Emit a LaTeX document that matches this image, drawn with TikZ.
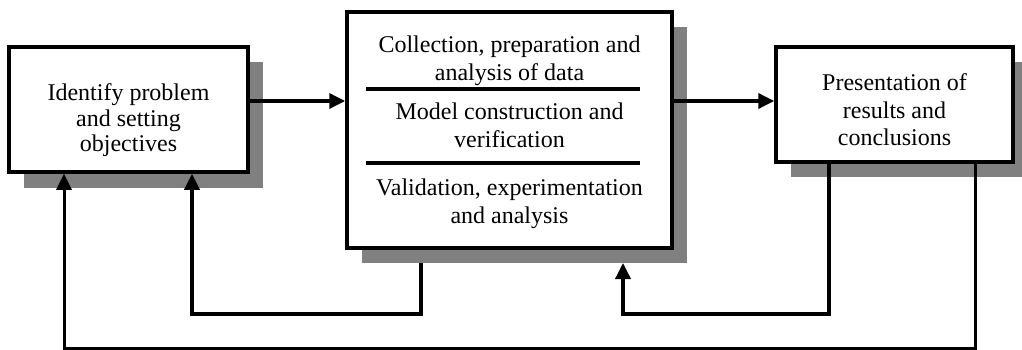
\documentclass[tikz,border=0pt]{standalone}
\usepackage{fontspec}
\setmainfont{Liberation Serif}
\usetikzlibrary{arrows.meta}
\definecolor{shadowgray}{HTML}{808080}
\begin{document}
\begin{tikzpicture}[x=1pt,y=-1pt,
  box/.style={draw,line width=3.5pt,fill=white,inner sep=0pt},
  shade/.style={fill=shadowgray,inner sep=0pt,outer sep=0pt},
  txt/.style={align=center,inner sep=0pt},
  link/.style={line width=3.5pt},
  arr/.style={link,-{Triangle[length=16pt,width=15pt]}}]
\useasboundingbox (0,0) rectangle (1022,350);

% drop shadows
\node[shade,minimum width=239pt,minimum height=125pt] (Ls) at (143.5,125) {};
\node[shade,minimum width=325pt,minimum height=236pt] (Ms) at (524.5,145) {};
\node[shade,minimum width=237pt,minimum height=115pt] (Rs) at (909.5,119.5) {};

% process boxes
\node[box,minimum width=239pt,minimum height=125pt] (L) at (128.5,109.5) {};
\node[box,minimum width=325pt,minimum height=236pt] (M) at (509.5,130) {};
\node[box,minimum width=237pt,minimum height=115pt] (R) at (894.5,104.5) {};

% box texts
\node[txt,font=\fontsize{24}{25.5}\selectfont] (Lt) at (128.5,120.5)
  {Identify problem\\and setting\\objectives};
\node[txt,font=\fontsize{24}{28}\selectfont] (M1) at (509.5,61)
  {Collection, preparation and\\analysis of data};
\node[txt,font=\fontsize{24}{28}\selectfont] (M2) at (509.5,125)
  {Model construction and\\verification};
\node[txt,font=\fontsize{24}{28}\selectfont] (M3) at (509.5,203.5)
  {Validation, experimentation\\and analysis};
\node[txt,font=\fontsize{24}{27.5}\selectfont] (Rt) at (894.5,110)
  {Presentation of\\results and\\conclusions};

% dividers inside the middle box
\coordinate (d1a) at (366,89);  \coordinate (d1b) at (640,89);
\coordinate (d2a) at (366,163); \coordinate (d2b) at (640,163);
\draw[link] (d1a) -- (d1b);
\draw[link] (d2a) -- (d2b);

% forward flow
\coordinate (row) at (0,101);
\draw[arr] (row -| L.east) -- (row -| M.west);
\draw[arr] (row -| M.east) -- (row -| R.west);

% feedback loops
\coordinate (fbA) at (421,314); \coordinate (fbB) at (192,314);
\draw[arr] (fbA |- Ms.south) -- (fbA) -- (fbB) -- (fbB |- L.south);
\coordinate (fbC) at (829,314); \coordinate (fbD) at (623,314);
\draw[arr] (fbC |- R.south) -- (fbC) -- (fbD) -- (fbD |- Ms.south);
\coordinate (fbE) at (975,348); \coordinate (fbF) at (64,348);
\draw[arr,line width=3pt] (fbE |- R.south) -- (fbE) -- (fbF) -- (fbF |- L.south);
\end{tikzpicture}
\end{document}
